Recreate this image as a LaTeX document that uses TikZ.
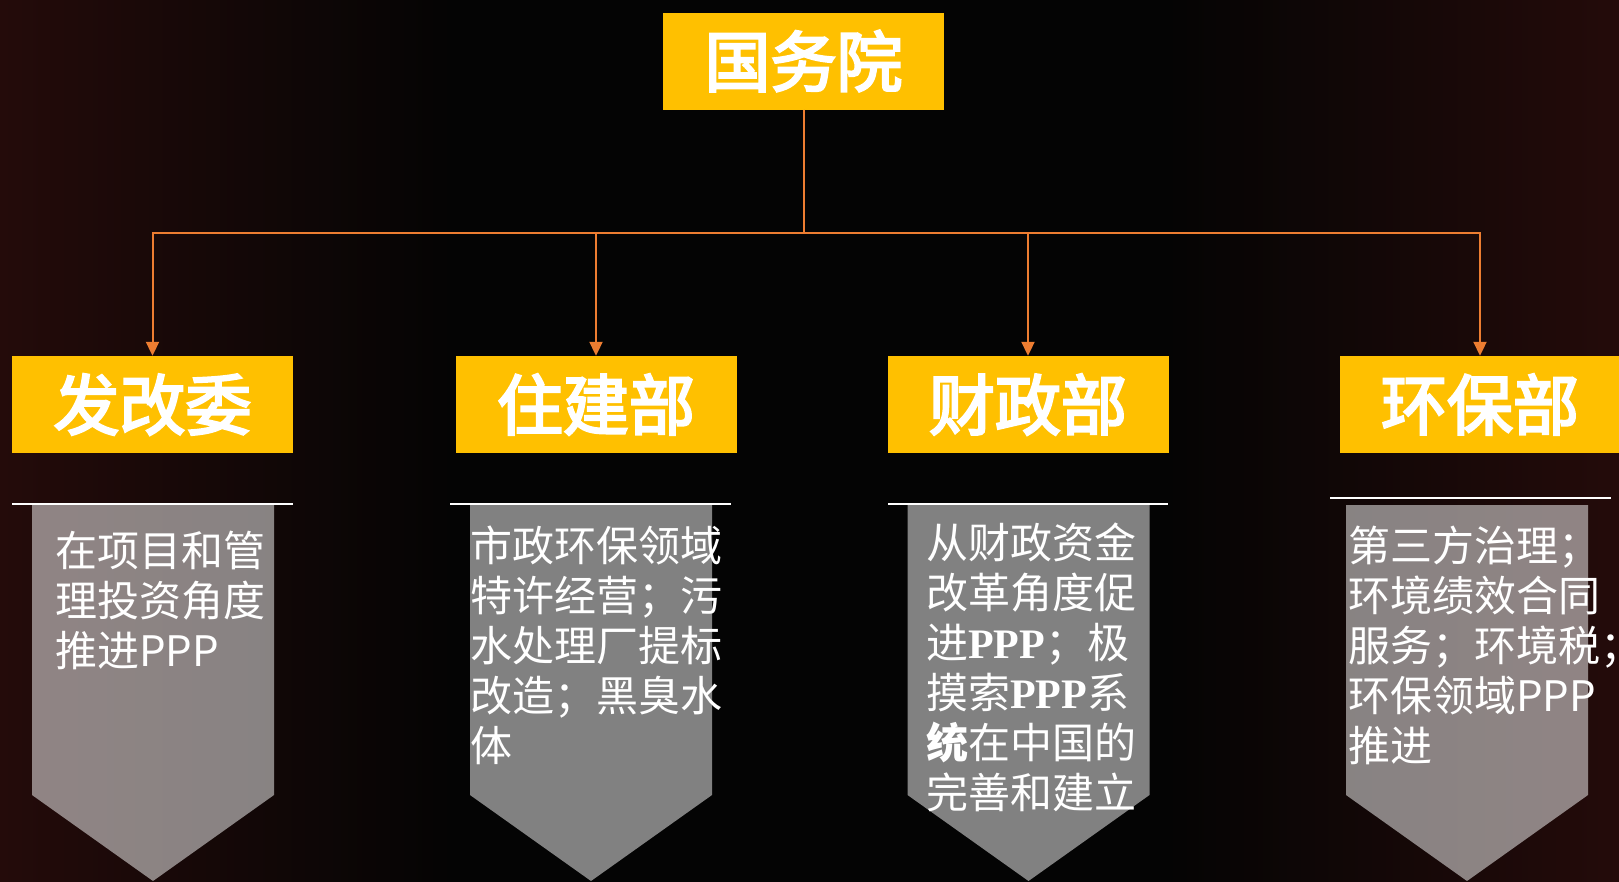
\documentclass[tikz,border=0pt]{standalone}
\usepackage{fontspec}
\setmainfont{Noto Sans CJK SC}
\newfontfamily\headfont{Noto Sans CJK SC}[FakeBold=3.5]
\newfontfamily\latinbold{Liberation Serif}
\usetikzlibrary{calc,arrows.meta}

\definecolor{boxyellow}{HTML}{FFC000}
\definecolor{linkorange}{HTML}{ED7D31}
\definecolor{bgedge}{RGB}{36,11,10}
\definecolor{bgmid}{RGB}{4,4,4}
\pgfdeclarehorizontalshading{bgshade}{100bp}{color(0bp)=(bgedge); color(25bp)=(bgedge); color(39bp)=(bgmid); color(61bp)=(bgmid); color(75bp)=(bgedge); color(100bp)=(bgedge)}

\tikzset{
  head/.style={fill=boxyellow,text=white,font=\fontsize{66}{70}\selectfont\headfont,minimum width=281pt,minimum height=97pt,inner sep=0pt},
  link/.style={linkorange,line width=2pt,-{Triangle[length=14pt,width=13pt]}},
  rule/.style={white,line width=2pt},
  banner/.style={fill=white,opacity=0.5},
  note/.style={text=white,font=\fontsize{42}{50}\selectfont,anchor=base west,text width=320pt,align=left,inner sep=0pt},
}

\begin{document}
\begin{tikzpicture}[x=1pt,y=-1pt]
  \shade[shading=bgshade] (0,0) rectangle (1619,881);
  \useasboundingbox (0,0) rectangle (1619,881);

  % boxes
  \node[head] (gwy) at (803.5,61) {国务院};
  \node[head] (fgw) at (152.5,404.5) {发改委};
  \node[head] (zjb) at (596,404.5) {住建部};
  \node[head] (czb) at (1028,404.5) {财政部};
  \node[head] (hbb) at (1480,404.5) {环保部};

  % connectors
  \coordinate (bus) at (0,233);
  \foreach \dept in {fgw,zjb,czb,hbb}
    \draw[link] (gwy.south) |- (bus -| \dept.north) -- (\dept.north);

  % white rules
  \draw[rule] (12,504) -- (293,504);
  \draw[rule] (450,504) -- (731,504);
  \draw[rule] (888,504) -- (1168,504);
  \draw[rule] (1330,498) -- (1611,498);

  % banners
  \foreach \cx in {153,591,1028.5,1467}
    \path[banner] (\cx-121,505) -- (\cx+121,505) -- (\cx+121,795) -- (\cx,881) -- (\cx-121,795) -- cycle;

  % texts
  \node[note] (fgwtext) at (55,566) {在项目和管\\理投资角度\\推进PPP};
  \node[note] (zjbtext) at (470,561) {市政环保领域\\特许经营；污\\水处理厂提标\\改造；黑臭水\\体};
  \node[note] (czbtext) at (926,558) {从财政资金\\改革角度促\\进{\latinbold\bfseries PPP}；极\\摸索{\latinbold\bfseries PPP}系\\{\bfseries 统}在中国的\\完善和建立};
  \node[note] (hbbtext) at (1348,561) {第三方治理；\\环境绩效合同\\服务；环境税；\\环保领域PPP\\推进};
\end{tikzpicture}
\end{document}
